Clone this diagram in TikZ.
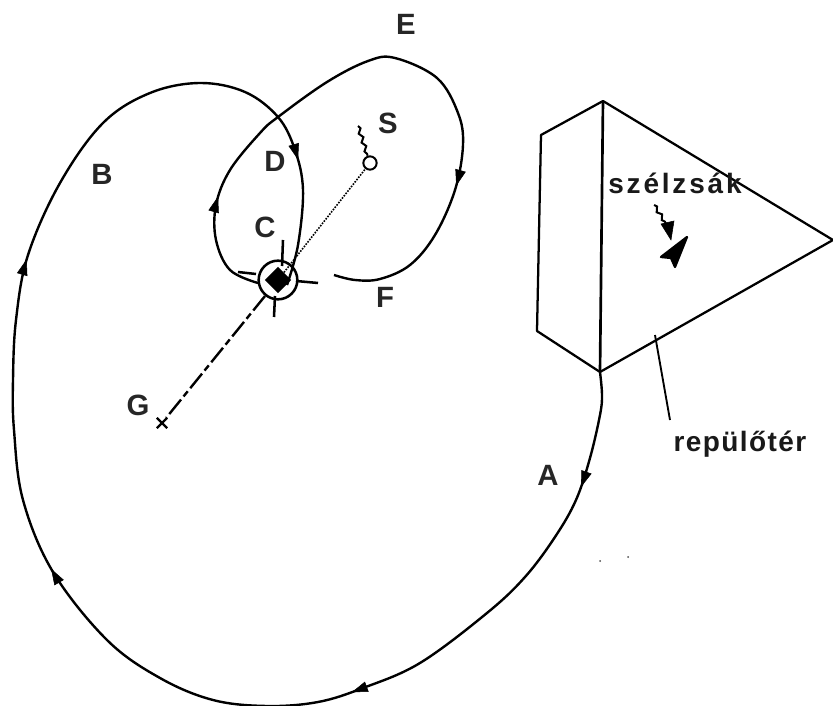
\documentclass[tikz,border=0pt]{standalone}
\usepackage{fontspec}
\setmainfont{Liberation Sans}
\usetikzlibrary{arrows.meta,shapes.geometric,shapes.misc,decorations.markings,decorations.pathmorphing}
\tikzset{
  lbl/.style={font=\fontsize{22}{26}\selectfont\bfseries,inner sep=0pt,text=black!85},
  lbl_s/.style={font=\fontsize{21}{25}\selectfont\bfseries\addfontfeature{LetterSpace=#1},inner sep=0pt,text=black!90},
  flight/.style={draw=black,line width=1.8pt,smooth,tension=0.6},
  flowtip/.style={postaction={decorate,decoration={markings,
    mark=at position #1 with {\arrow[line width=0.4pt]{Triangle[length=12pt,width=8pt]}}}}},
  field/.style={draw=black,line width=1.7pt,line join=round},
  tickln/.style={draw=black,line width=1.9pt},
  squig/.style={draw=black,line width=1.5pt,decorate,decoration={snake,amplitude=1.3pt,segment length=7pt}},
  speck/.style={circle,fill=black!70,minimum size=1.5pt,inner sep=0pt},
}
\begin{document}
\begin{tikzpicture}[x=0.75pt,y=-0.75pt]
    \useasboundingbox (0,0) rectangle (833,706);
    % airfield
    \coordinate (f_top) at (603,101);
    \coordinate (f_lt) at (541,135);
    \coordinate (f_lb) at (537,331);
    \coordinate (f_bot) at (600,372);
    \coordinate (f_r) at (833,240);
    \draw[field] (f_top)--(f_lt)--(f_lb)--(f_bot)--(f_r)--cycle;
    \draw[field,line width=2pt] (f_top)--(f_bot);
    % windsock
    \draw[field,fill=black] (687,237)--(661,257)--(671,258)--(675,267)--cycle;
    \coordinate (s1) at (654,205);
    \coordinate (s2) at (667,225);
    \draw[squig] (s1)--(s2);
    \draw[fill=black] (661,224)--(674,221)--(671,240)--cycle;
    % beacon
    \node[circle,draw=black,line width=1.9pt,minimum size=29pt,inner sep=0pt] (bcn) at (278,280) {};
    \node[diamond,aspect=1,fill=black,minimum size=20pt,inner sep=0pt] (bcn_c) at (278,280) {};
    \draw[tickln] (283,240)--(282,266);
    \draw[tickln] (238,272)--(256,274);
    \draw[tickln] (296,281)--(318,283);
    \draw[tickln] (275,296)--(274,317);
    % S and G
    \node[circle,draw=black,line width=1.5pt,minimum size=10pt,inner sep=0pt] (spt) at (370,163) {};
    \coordinate (s3) at (358,126);
    \draw[squig] (s3)--(spt);
    \node[cross out,draw=black,line width=1.7pt,minimum size=6pt,inner sep=0pt] (gpt) at (162,423) {};
    \draw[line width=1.2pt,densely dotted] (bcn_c)--(spt);
    \draw[line width=1.8pt,dash pattern=on 14pt off 3pt on 5pt off 3pt] (bcn)--(gpt);
    % big turn
    \draw[flight,flowtip=0.072,flowtip=0.266,flowtip=0.483,flowtip=0.677,flowtip=0.922] plot coordinates {
      (600,372) (602,395) (600,415) (590,458) (576,500) (555,537) (525,577) (487,613) (420,663)
      (363,688) (318,702) (267,706) (213,700) (160,678) (107,640) (53,572)
      (23,500) (14,430) (13,380) (16,320) (28,255) (60,183) (103,123) (150,93) (200,83)
      (245,92) (278,117) (295,150) (303,190) (298,245) (287,285)};
    % small turn
    \draw[flight,flowtip=0.16,flowtip=0.745] plot coordinates {
      (258,283) (230,270) (216,240) (216,205) (230,170) (260,133) (278,117) (327,82)
      (368,61) (395,58) (437,78) (458,113) (463,145) (455,190) (435,235) (410,265)
      (380,279) (355,280) (334,275)};
    % labels
    \node[lbl] (lE) at (406,24) {E};
    \node[lbl] (lB) at (102,174) {B};
    \node[lbl] (lD) at (275,161) {D};
    \node[lbl] (lS) at (388,123) {S};
    \node[lbl] (lC) at (265,227) {C};
    \node[lbl] (lF) at (385,297) {F};
    \node[lbl] (lG) at (138,405) {G};
    \node[lbl] (lA) at (548,475) {A};
    \node[lbl_s=10] (lsock) at (675,183) {szélzsák};
    \node[lbl_s=5] (lfield) at (740,444) {repülőtér};
    \coordinate (lead) at (655,335);
    \draw[line width=1.4pt] (lead)--(670,420);
    \node[speck] (d1) at (600,561) {};
    \node[speck] (d2) at (628,557) {};
  \end{tikzpicture}
\end{document}
